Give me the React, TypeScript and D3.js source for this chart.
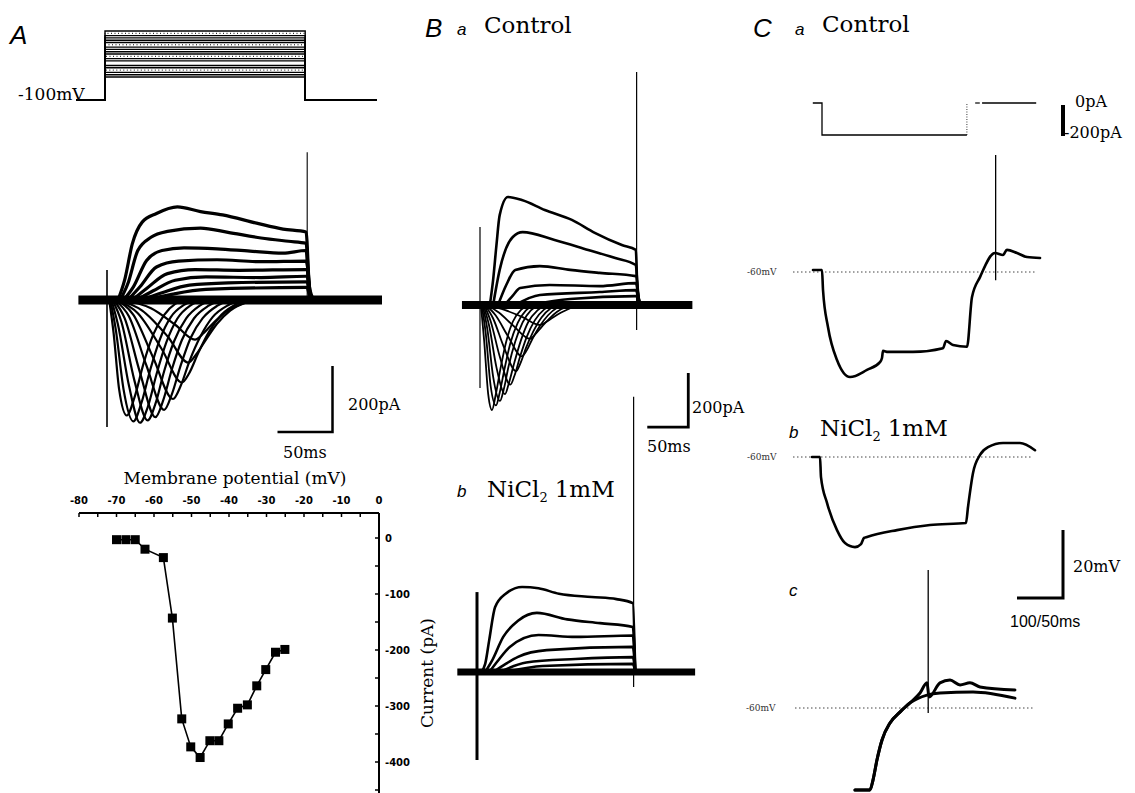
import * as d3 from "d3";

type Pt = [number, number];

// ---------- Panel A: voltage protocol (mV) ----------
const protoHoldA = -100;
const protoStepsA = [-75, -72.5, -70, -67.5, -65, -62.5, -57.5, -55, -52.5, -50, -47.5, -45, -42.5, -40, -37.5, -35, -32.5, -30, -27.5, -25];
const protoTimesA = [-28, 0, 182, 245]; // ms: trace start, step on, step off, trace end

// ---------- Panel A: current traces (ms, pA) ----------
const baselineA: Pt[] = [[-26, 0], [250, 0]];
const inwardA: Pt[][] = [
  [[2, 0], [6, -100], [11, -270], [18, -350], [25, -295], [33, -195], [42, -105], [52, -45], [62, -12], [72, 0]],
  [[3, 0], [8, -90], [15, -270], [24, -368], [31, -315], [39, -215], [48, -120], [58, -52], [70, -15], [80, 0]],
  [[4, 0], [10, -75], [20, -260], [30, -372], [37, -325], [45, -225], [54, -128], [64, -56], [76, -16], [88, 0]],
  [[5, 0], [13, -65], [25, -245], [37, -365], [44, -315], [52, -215], [61, -125], [72, -56], [84, -18], [96, 0]],
  [[6, 0], [16, -55], [30, -220], [44, -355], [51, -305], [59, -210], [68, -122], [79, -56], [92, -18], [104, 0]],
  [[7, 0], [20, -50], [36, -200], [52, -333], [59, -285], [67, -198], [76, -115], [87, -55], [100, -18], [112, 0]],
  [[8, 0], [24, -45], [42, -175], [60, -300], [67, -260], [75, -185], [85, -110], [96, -52], [110, -16], [122, 0]],
  [[9, 0], [28, -40], [50, -150], [68, -250], [75, -220], [83, -160], [93, -95], [104, -45], [118, -12], [130, 0]],
  [[10, 0], [32, -32], [55, -110], [74, -190], [81, -165], [90, -120], [100, -72], [112, -32], [126, -8], [138, 0]],
  [[12, 0], [40, -25], [62, -75], [80, -120], [88, -100], [98, -65], [110, -32], [124, -10], [138, 0]],
];
const outwardA: Pt[][] = [
  [[10, 0], [16, 60], [23, 170], [32, 236], [45, 262], [64, 282], [85, 268], [105, 258], [136, 233], [160, 215], [181, 206], [184, 40], [188, 0]],
  [[12, 0], [19, 50], [28, 150], [40, 190], [55, 208], [85, 218], [110, 205], [140, 188], [165, 178], [181, 172], [184, 30], [188, 0]],
  [[15, 0], [24, 40], [36, 120], [50, 150], [70, 158], [100, 155], [130, 148], [160, 142], [181, 150], [184, 25], [188, 0]],
  [[19, 0], [30, 40], [45, 100], [65, 118], [100, 122], [140, 116], [181, 118], [185, 0]],
  [[23, 0], [36, 35], [55, 80], [80, 92], [120, 90], [181, 92], [185, 0]],
  [[27, 0], [42, 28], [62, 60], [90, 70], [140, 68], [181, 72], [185, 0]],
  [[31, 0], [50, 22], [75, 45], [110, 52], [181, 55], [185, 0]],
  [[36, 0], [60, 18], [90, 32], [181, 38], [185, 0]],
];
const artifactsA: [number, number, number][] = [[0, 91, -385], [182, 448, 0]]; // t, top pA, bottom pA

// ---------- Panel A: I-V relation ----------
const ivVoltage = [-70, -67.5, -65, -62.4, -57.5, -55.1, -52.6, -50.2, -47.7, -45.1, -42.7, -40.2, -37.7, -35.1, -32.6, -30.2, -27.6, -25.1];
const ivCurrent = [-3, -3, -3, -20, -35, -143, -323, -373, -392, -362, -362, -332, -304, -298, -264, -235, -204, -199];
const ivXTicks = [-80, -70, -60, -50, -40, -30, -20, -10, 0];
const ivYTicks = [0, -100, -200, -300, -400];

// ---------- Panel B a: control (ms, pA) ----------
const baselineBa: Pt[] = [[-22, 0], [259, 0]];
const inwardBa: Pt[][] = [
  [[1, 0], [5, -130], [10, -330], [14.6, -389], [19, -335], [25, -235], [32, -135], [40, -62], [50, -18], [60, 0]],
  [[2, 0], [7, -105], [13, -300], [19.5, -372], [24, -325], [30, -235], [37, -142], [46, -66], [56, -20], [66, 0]],
  [[3, 0], [9, -90], [16, -265], [24.4, -355], [29, -312], [35, -225], [43, -135], [52, -64], [62, -20], [72, 0]],
  [[4, 0], [11, -75], [20, -230], [30.5, -330], [35, -292], [42, -212], [50, -130], [59, -62], [70, -20], [80, 0]],
  [[5, 0], [13, -60], [24, -190], [37, -295], [42, -262], [49, -190], [57, -118], [67, -56], [78, -17], [88, 0]],
  [[6, 0], [16, -50], [29, -155], [44, -245], [49, -218], [56, -160], [65, -98], [75, -46], [86, -13], [96, 0]],
  [[7, 0], [19, -38], [34, -115], [51, -190], [57, -168], [64, -125], [73, -78], [83, -38], [94, -10], [104, 0]],
  [[8, 0], [23, -28], [41, -78], [61, -125], [67, -110], [75, -82], [84, -52], [94, -25], [106, -6], [116, 0]],
  [[10, 0], [30, -18], [52, -45], [73, -74], [80, -64], [89, -46], [99, -28], [110, -12], [122, 0]],
];
const outwardBa: Pt[][] = [
  [[12, 0], [16, 93], [20, 220], [24, 333], [34, 400], [51, 389], [79, 352], [112, 315], [140, 267], [173, 222], [190, 204], [192, 60], [196, 0]],
  [[16, 0], [24, 130], [40, 252], [52, 270], [91, 241], [132, 204], [165, 174], [190, 148], [193, 30], [197, 0]],
  [[22, 0], [32, 74], [43, 130], [73, 144], [110, 130], [146, 119], [190, 107], [194, 0]],
  [[30, 0], [40, 35], [49, 63], [85, 74], [146, 70], [190, 81], [194, 0]],
  [[43, 0], [73, 37], [146, 48], [190, 55], [194, 0]],
  [[61, 0], [110, 22], [190, 33], [194, 0]],
];
const artifactsBa: [number, number, number][] = [[0, 289, -307], [191, 863, -93]];

// ---------- Panel B b: NiCl2 (ms, pA) ----------
const baselineBb: Pt[] = [[-24, 0], [266, 0]];
const outwardBb: Pt[][] = [
  [[5, 0], [10, 30], [15, 120], [22, 240], [35, 290], [55, 315], [75, 310], [100, 290], [140, 278], [170, 270], [190, 255], [193, 0]],
  [[10, 0], [18, 40], [32, 130], [50, 190], [73, 219], [110, 195], [150, 181], [190, 167], [193, 0]],
  [[15, 0], [25, 40], [40, 93], [75, 137], [120, 130], [190, 135], [193, 0]],
  [[20, 0], [35, 30], [50, 56], [85, 81], [190, 93], [193, 0]],
  [[28, 0], [60, 35], [120, 48], [190, 55], [193, 0]],
  [[35, 0], [80, 22], [190, 30], [193, 0]],
];
const artifactsBb: [number, number, number][] = [[0, 296, -326], [191, 1019, -56]];

// ---------- Panel C: current-clamp (ms, pA / mV) ----------
const stimC = { hold: 0, step: -200, on: 0, off: 315, pre: -20, post: 470 };
const restC = -60;
const traceCa: Pt[] = [
  [-19.6, -59.4], [0, -59.4], [2.2, -65.3], [13, -76.2], [32.6, -85.9], [60.9, -90.9], [97.8, -88.8], [126, -86.5],
  [130.4, -85.3], [132.6, -83.2], [143.5, -83.5], [197.8, -83.5], [263, -82.4], [269.6, -80.3], [284.8, -81.5],
  [315.2, -82], [326, -67.4], [343.5, -61.5], [376, -54.4], [393.5, -55], [402, -53.5], [424, -54.4], [445.7, -55.6], [474, -55.9],
];
const spikeCa: [number, number, number] = [377.5, -25.6, -62.4];
const traceCb: Pt[] = [
  [-21.7, -60], [-4.3, -60], [-2.2, -65.9], [10.9, -73.5], [32.6, -81.5], [50, -85.3], [71.7, -86.5], [84.8, -85.6],
  [91.3, -83.8], [97.8, -83.5], [163, -81.5], [234.8, -80], [313, -79.4], [317.4, -74.7], [328.3, -64.7],
  [343.5, -59.4], [360.9, -57.1], [393.5, -55.9], [430.4, -55.9], [463, -58],
];
const traceCcStart: Pt[] = [
  [-19.6, -84.1], [-3.3, -84.1], [0, -81.2], [4.3, -75.3], [9.8, -69.4], [18.5, -64.4], [29.3, -61.2], [40.2, -58.5],
];
const traceCc: Pt[][] = [
  [...traceCcStart, [51.1, -55.6], [58.7, -52.6], [60.9, -56.8], [72.8, -52.6], [83.7, -51.8], [94.6, -53.2], [105.4, -52.6], [116.3, -53.8], [154.3, -54.7]],
  [...traceCcStart, [58.7, -56.2], [72.8, -55.6], [108.7, -55.3], [154.3, -57.1]],
];
const spikeCc: [number, number, number] = [60, -19.4, -61.5];

const SERIF = "'DejaVu Serif', serif";
const SANS = "'Liberation Sans', Arial, sans-serif";

function mkLine(x: d3.ScaleLinear<number, number>, y: d3.ScaleLinear<number, number>) {
  return d3.line<Pt>().x((d) => x(d[0])).y((d) => y(d[1])).curve(d3.curveMonotoneX);
}

export default function App() {
  // A scales
  const xA = d3.scaleLinear().domain([0, 50]).range([107, 162]);
  const yA = d3.scaleLinear().domain([0, 200]).range([300, 234]);
  const vA = d3.scaleLinear().domain([-100, -25]).range([100, 31]);
  const lineA = mkLine(xA, yA);

  // I-V scales
  const xIV = d3.scaleLinear().domain([-80, 0]).range([79, 379]);
  const yIV = d3.scaleLinear().domain([0, -400]).range([538, 762]);
  const ivPts: Pt[] = ivVoltage.map((v, i) => [v, ivCurrent[i]]);
  const ivLine = d3.line<Pt>().x((d) => xIV(d[0])).y((d) => yIV(d[1]));

  // B scales
  const xBa = d3.scaleLinear().domain([0, 50]).range([480, 521]);
  const yBa = d3.scaleLinear().domain([0, 200]).range([305, 251]);
  const xBb = d3.scaleLinear().domain([0, 50]).range([477, 518]);
  const yBb = d3.scaleLinear().domain([0, 200]).range([672, 618]);
  const lineBa = mkLine(xBa, yBa);
  const lineBb = mkLine(xBb, yBb);

  // C scales
  const xC = d3.scaleLinear().domain([0, 100]).range([822, 868]);
  const yCi = d3.scaleLinear().domain([0, -200]).range([103, 135]);
  const yCa = d3.scaleLinear().domain([-60, -40]).range([272, 204]);
  const yCb = d3.scaleLinear().domain([-60, -40]).range([457, 389]);
  const xCc = d3.scaleLinear().domain([0, 50]).range([873, 919]);
  const yCc = d3.scaleLinear().domain([-60, -40]).range([708, 640]);

  const [tPre, tOn, tOff, tEnd] = protoTimesA;
  const ivTop = yIV.invert(513);
  const ivBottom = yIV.invert(793);

  const trace = (d: string | null, w: number, key: string | number, cap: "round" | "butt" = "round") => (
    <path key={key} d={d ?? ""} fill="none" stroke="#000" strokeWidth={w} strokeLinejoin="round" strokeLinecap={cap} />
  );

  return (
    <svg width={1135} height={793} style={{ position: "absolute", left: 0, top: 0, background: "#fff" }}>
      {/* ===== Panel A ===== */}
      <text x={10} y={44} fontFamily={SANS} fontStyle="italic" fontSize={26}>A</text>
      <text x={18} y={100} fontFamily={SERIF} fontSize={17}>-100mV</text>
      {protoStepsA.map((v, i) => (
        <path
          key={i}
          d={`M${xA(tPre)},${vA(protoHoldA)}H${xA(tOn) - 2}V${vA(v)}H${xA(tOff) - 2}V${vA(protoHoldA)}H${xA(tEnd)}`}
          fill="none"
          stroke="#000"
          strokeWidth={i % 5 === 3 ? 1 : 1.4}
          strokeDasharray={i % 5 === 3 ? "1 2.5" : undefined}
        />
      ))}
      {trace(lineA(baselineA), 9, "bA", "butt")}
      {inwardA.map((t, i) => trace(lineA(t), 2.2, "iA" + i))}
      {outwardA.map((t, i) => trace(lineA(t), 3.2, "oA" + i))}
      {artifactsA.map(([t, hi, lo], i) => (
        <line key={"aA" + i} x1={xA(t)} x2={xA(t)} y1={yA(hi)} y2={yA(lo)} stroke="#000" strokeWidth={i === 0 ? 1.6 : 1.1} />
      ))}
      {/* A scale bar */}
      <path d={`M${xA(205)},${yA(-200)}V${yA(-400)}H${xA(155)}`} fill="none" stroke="#000" strokeWidth={2.5} />
      <text x={348} y={410} fontFamily={SERIF} fontSize={16}>200pA</text>
      <text x={283} y={458} fontFamily={SERIF} fontSize={16}>50ms</text>

      {/* A I-V */}
      <text x={235} y={484} textAnchor="middle" fontFamily={SERIF} fontSize={17}>Membrane potential (mV)</text>
      <line x1={xIV(-80)} x2={xIV(0)} y1={yIV(ivTop)} y2={yIV(ivTop)} stroke="#000" strokeWidth={2} />
      {d3.range(-80, 1, 5).map((v) => (
        <line key={"xt" + v} x1={xIV(v)} x2={xIV(v)} y1={yIV(ivTop)} y2={yIV(ivTop) + 4} stroke="#000" strokeWidth={1.5} />
      ))}
      {ivXTicks.map((v) => (
        <text key={"xl" + v} x={xIV(v)} y={504} textAnchor="middle" fontFamily="'DejaVu Sans', sans-serif" fontWeight="bold" fontSize={10}>{v}</text>
      ))}
      <line x1={xIV(0)} x2={xIV(0)} y1={yIV(ivTop)} y2={yIV(ivBottom)} stroke="#000" strokeWidth={2} />
      {d3.range(0, -451, -50).map((v) => (
        <line key={"yt" + v} x1={xIV(0) - 4} x2={xIV(0)} y1={yIV(v)} y2={yIV(v)} stroke="#000" strokeWidth={1.5} />
      ))}
      {ivYTicks.map((v) => (
        <text key={"yl" + v} x={xIV(0) + 6} y={yIV(v) + 4} fontFamily="'DejaVu Sans', sans-serif" fontWeight="bold" fontSize={10}>{v}</text>
      ))}
      <text transform={`translate(433,673) rotate(-90)`} textAnchor="middle" fontFamily={SERIF} fontSize={17}>Current (pA)</text>
      <path d={ivLine(ivPts) ?? ""} fill="none" stroke="#000" strokeWidth={1.6} />
      {ivPts.map((d, i) => (
        <rect key={"sq" + i} x={xIV(d[0]) - 4.5} y={yIV(d[1]) - 4.5} width={9} height={9} fill="#000" />
      ))}

      {/* ===== Panel B a ===== */}
      <text x={425} y={37} fontFamily={SANS} fontStyle="italic" fontSize={26}>B</text>
      <text x={457} y={35} fontFamily={SANS} fontStyle="italic" fontSize={17}>a</text>
      <text x={484} y={33} fontFamily={SERIF} fontSize={23}>Control</text>
      {trace(lineBa(baselineBa), 8, "bBa", "butt")}
      {inwardBa.map((t, i) => trace(lineBa(t), 1.8, "iBa" + i))}
      {outwardBa.map((t, i) => trace(lineBa(t), 2.6, "oBa" + i))}
      {artifactsBa.map(([t, hi, lo], i) => (
        <line key={"aBa" + i} x1={xBa(t)} x2={xBa(t)} y1={yBa(hi)} y2={yBa(lo)} stroke="#000" strokeWidth={1.2} />
      ))}
      <path d={`M${xBa(254)},${yBa(-252)}V${yBa(-452)}H${xBa(204)}`} fill="none" stroke="#000" strokeWidth={2.8} />
      <text x={692} y={413} fontFamily={SERIF} fontSize={16}>200pA</text>
      <text x={647} y={452} fontFamily={SERIF} fontSize={16}>50ms</text>

      {/* ===== Panel B b ===== */}
      <text x={457} y={497} fontFamily={SANS} fontStyle="italic" fontSize={17}>b</text>
      <text x={487} y={497} fontFamily={SERIF} fontSize={23}>
        NiCl<tspan fontSize={13} dy={5}>2</tspan>
        <tspan dx={7} dy={-5}>1mM</tspan>
      </text>
      {trace(lineBb(baselineBb), 7, "bBb", "butt")}
      {outwardBb.map((t, i) => trace(lineBb(t), 2.6, "oBb" + i))}
      {artifactsBb.map(([t, hi, lo], i) => (
        <line key={"aBb" + i} x1={xBb(t)} x2={xBb(t)} y1={yBb(hi)} y2={yBb(lo)} stroke="#000" strokeWidth={i === 0 ? 3 : 1.2} />
      ))}

      {/* ===== Panel C a ===== */}
      <text x={753} y={37} fontFamily={SANS} fontStyle="italic" fontSize={26}>C</text>
      <text x={795} y={35} fontFamily={SANS} fontStyle="italic" fontSize={17}>a</text>
      <text x={822} y={32} fontFamily={SERIF} fontSize={23}>Control</text>
      <path
        d={`M${xC(stimC.pre)},${yCi(stimC.hold)}H${xC(stimC.on)}V${yCi(stimC.step)}H${xC(stimC.off)}`}
        fill="none" stroke="#000" strokeWidth={1.3}
      />
      <line x1={xC(stimC.off)} x2={xC(stimC.off)} y1={yCi(stimC.step)} y2={yCi(stimC.hold)} stroke="#000" strokeWidth={0.8} strokeDasharray="1 1.5" />
      <line x1={xC(333)} x2={xC(343)} y1={yCi(stimC.hold)} y2={yCi(stimC.hold)} stroke="#000" strokeWidth={1.2} />
      <line x1={xC(348)} x2={xC(stimC.post) - 2} y1={yCi(stimC.hold)} y2={yCi(stimC.hold)} stroke="#000" strokeWidth={1.3} />
      <line x1={1063} x2={1063} y1={yCi(0) + 2} y2={yCi(-200) + 1} stroke="#000" strokeWidth={4} />
      <text x={1075} y={107} fontFamily={SERIF} fontSize={16}>0pA</text>
      <text x={1064} y={138} fontFamily={SERIF} fontSize={16}>-200pA</text>

      <text x={747} y={275} fontFamily={SERIF} fontSize={9} fill="#333">-60mV</text>
      <line x1={793} x2={1035} y1={yCa(restC)} y2={yCa(restC)} stroke="#444" strokeWidth={1} strokeDasharray="1.5 2.5" />
      {trace(mkLine(xC, yCa)(traceCa), 2.6, "ca")}
      <line x1={xC(spikeCa[0])} x2={xC(spikeCa[0])} y1={yCa(spikeCa[1])} y2={yCa(spikeCa[2])} stroke="#000" strokeWidth={1.3} />

      {/* ===== Panel C b ===== */}
      <text x={789} y={438} fontFamily={SANS} fontStyle="italic" fontSize={17}>b</text>
      <text x={820} y={436} fontFamily={SERIF} fontSize={23}>
        NiCl<tspan fontSize={13} dy={5}>2</tspan>
        <tspan dx={7} dy={-5}>1mM</tspan>
      </text>
      <text x={747} y={460} fontFamily={SERIF} fontSize={9} fill="#333">-60mV</text>
      <line x1={793} x2={1033} y1={yCb(restC)} y2={yCb(restC)} stroke="#444" strokeWidth={1} strokeDasharray="1.5 2.5" />
      {trace(mkLine(xC, yCb)(traceCb), 2.6, "cb")}

      {/* C scale bar */}
      <path d={`M1017,${yCb(-101.5)}H1063V${yCb(-81.5)}`} fill="none" stroke="#000" strokeWidth={3} />
      <text x={1073} y={572} fontFamily={SERIF} fontSize={16}>20mV</text>
      <text x={1010} y={627} fontFamily={SANS} fontSize={16}>100/50ms</text>

      {/* ===== Panel C c ===== */}
      <text x={789} y={596} fontFamily={SANS} fontStyle="italic" fontSize={17}>c</text>
      <text x={746} y={711} fontFamily={SERIF} fontSize={9} fill="#333">-60mV</text>
      <line x1={795} x2={1035} y1={yCc(restC)} y2={yCc(restC)} stroke="#444" strokeWidth={1} strokeDasharray="1.5 2.5" />
      {traceCc.map((t, i) => trace(mkLine(xCc, yCc)(t), 3, "cc" + i))}
      <line x1={xCc(spikeCc[0])} x2={xCc(spikeCc[0])} y1={yCc(spikeCc[1])} y2={yCc(spikeCc[2])} stroke="#000" strokeWidth={1.3} />
    </svg>
  );
}
